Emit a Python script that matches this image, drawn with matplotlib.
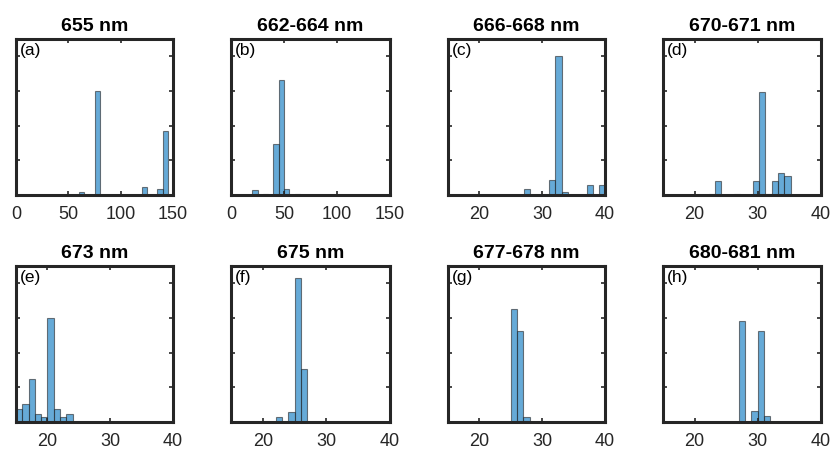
import numpy as np
import matplotlib
matplotlib.use("Agg")
import matplotlib.pyplot as plt

plt.rcParams['font.family'] = ['Liberation Sans', 'DejaVu Sans']

# titles and panel letters
titles = ["655 nm", "662-664 nm", "666-668 nm", "670-671 nm",
          "673 nm", "675 nm", "677-678 nm", "680-681 nm"]
letters = ["(a)", "(b)", "(c)", "(d)", "(e)", "(f)", "(g)", "(h)"]

# histogram bins (left edges) and heights
edges_a = [60, 65, 70, 75, 80, 85, 90, 95, 100, 105, 110, 115, 120, 125, 130, 135, 140]
vals_a = [0.9, 0, 0, 29.9, 0, 0, 0, 0, 0, 0, 0, 0, 2.3, 0, 0, 1.8, 18.6]

edges_b = [20, 25, 30, 35, 40, 45, 50, 55, 60]
vals_b = [1.5, 0, 0.3, 0, 14.6, 33.3, 1.8, 0, 0.4]

edges_c = [17.1, 18.1, 19.1, 20.1, 21.1, 22.1, 23.1, 24.1, 25.1, 26.1, 27.1, 28.1,
           29.1, 30.1, 31.1, 32.1, 33.1, 34.1, 35.1, 36.1, 37.1, 38.1, 39.1]
vals_c = [0, 0, 0, 0, 0, 0, 0, 0, 0, 0, 1.8, 0, 0, 0, 4.4, 40.0, 0.9, 0, 0, 0, 3.0, 0, 3.0]

edges_d = [22.2, 23.2, 24.2, 25.2, 26.2, 27.2, 28.2, 29.2, 30.2, 31.2, 32.2, 33.2, 34.2]
vals_d = [0.3, 3.9, 0, 0, 0.3, 0.1, 0, 3.9, 29.8, 0.3, 3.9, 6.4, 5.5]

edges_e = [15, 16, 17, 18, 19, 20, 21, 22, 23]
vals_e = [3.7, 5.2, 12.3, 2.2, 1.3, 29.9, 3.7, 1.3, 2.2]

edges_f = [22, 23, 24, 25, 26]
vals_f = [1.3, 0, 2.9, 41.6, 15.2]

edges_g = [24, 25, 26, 27]
vals_g = [0, 32.6, 26.2, 1.3]

edges_h = [26, 27, 28, 29, 30, 31]
vals_h = [0, 29.0, 0, 3.2, 26.2, 1.8]

panels = [(edges_a, vals_a, 5), (edges_b, vals_b, 5), (edges_c, vals_c, 1), (edges_d, vals_d, 1),
          (edges_e, vals_e, 1), (edges_f, vals_f, 1), (edges_g, vals_g, 1), (edges_h, vals_h, 1)]

xlims = [(0, 150), (0, 150), (15, 40), (15, 40), (15, 40), (15, 40), (15, 40), (15, 40)]
xticks_wide = [0, 50, 100, 150]
xticks_narrow = [20, 30, 40]
yticks = [0, 10, 20, 30, 40]

W, H = 832, 449
fig = plt.figure(figsize=(W / 100, H / 100), dpi=100)

# axes boxes in pixels: left, width, top
lefts = [16, 231, 448, 663]
widths = [157, 159, 157, 158]
tops = [39, 266]
height = 156

face = (0.0, 0.447, 0.741)
frame = '#262626'

for i in range(8):
    row, col = divmod(i, 4)
    l = lefts[col]
    t = tops[row]
    ax = fig.add_axes([l / W, 1 - (t + height) / H, widths[col] / W, height / H])
    edges, vals, bw = panels[i]
    ax.bar(edges, vals, width=bw, align='edge', color=face, alpha=0.6,
           edgecolor='#262626', linewidth=0.8)
    ax.set_xlim(*xlims[i])
    ax.set_ylim(0, 45)
    ax.set_xticks(xticks_wide if xlims[i][1] == 150 else xticks_narrow)
    ax.set_yticks(yticks)
    ax.set_yticklabels([])
    ax.tick_params(direction='in', top=True, right=True, length=3, width=1.2,
                   color=frame, labelsize=13, pad=8, labelcolor='#262626')
    for s in ax.spines.values():
        s.set_linewidth(2.2)
        s.set_color(frame)
    ax.set_title(titles[i], fontsize=14, fontweight='bold', pad=6)
    ax.text(0.025, 0.975, letters[i], transform=ax.transAxes, ha='left', va='top',
            fontsize=12.5, color='black')

fig.savefig("out.png", dpi=100)
